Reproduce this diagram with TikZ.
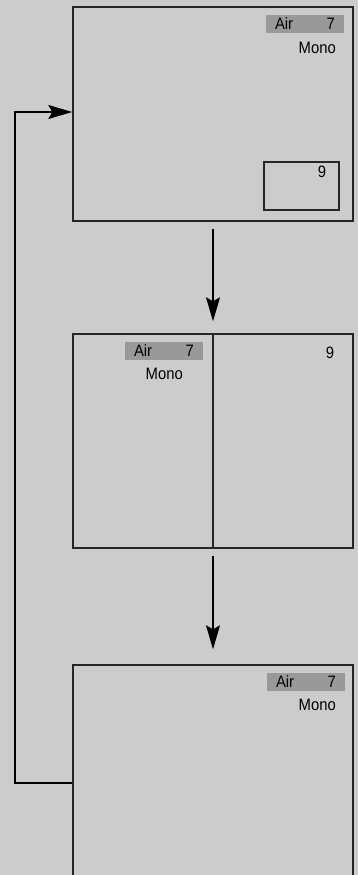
\documentclass[tikz,border=0pt]{standalone}
\usepackage{fontspec}
\setmainfont{Liberation Sans}[FakeStretch=0.9]
\usetikzlibrary{arrows.meta}

\begin{document}
\begin{tikzpicture}[x=1pt,y=-1pt,
  screen/.style={draw=black!85,line width=1.4pt,minimum width=280pt,minimum height=214pt,inner sep=0pt},
  tag/.style={fill=black!40,inner xsep=9pt,inner ysep=0pt,text width=60pt,minimum height=18pt,font=\fontsize{16.5}{19}\selectfont},
  lbl/.style={inner sep=0pt,font=\fontsize{16.5}{19}\selectfont},
  flow/.style={line width=1.3pt,-{Stealth[length=24pt,width=14pt,inset=4pt]}}]
\clip (0,0) rectangle (358,875);
\fill[black!20] (0,0) rectangle (358,875);
% three screens
\node[screen] (screenA) at (213,114) {};
\node[screen] (screenB) at (213,441) {};
\node[screen] (screenC) at (213,772) {};
\draw[draw=black!85,line width=1.4pt] (screenB.north) -- (screenB.south);
\node[draw=black!85,line width=1.4pt,minimum width=75pt,minimum height=48pt,inner sep=0pt] (panelA) at (301.5,186) {};
% labels
\node[tag] (tagA) at (305,24) {Air\hfill 7};
\node[lbl,anchor=east] (monoA) at (336,47.5) {Mono};
\node[lbl] (nineA) at (322,172) {9};
\node[tag] (tagB) at (164,351) {Air\hfill 7};
\node[lbl,anchor=east] (monoB) at (183,373.5) {Mono};
\node[lbl] (nineB) at (330,353) {9};
\node[tag] (tagC) at (306,682) {Air\hfill 7};
\node[lbl,anchor=east] (monoC) at (336,705) {Mono};
% arrows
\draw[flow,shorten <=7pt,shorten >=12pt] (screenA.south) -- (screenB.north);
\draw[flow,shorten <=7pt,shorten >=15pt] (screenB.south) -- (screenC.north);
\coordinate (back) at (15,783);
\draw[flow] (screenC.west |- back) -- (back) |- ([yshift=2pt]screenA.west);
\end{tikzpicture}
\end{document}
